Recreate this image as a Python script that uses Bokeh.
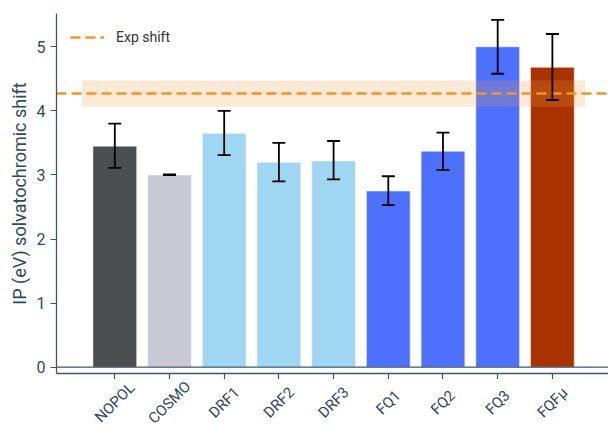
import math
from bokeh.plotting import figure
from bokeh.layouts import column
from bokeh.models import (Range1d, FixedTicker, Span, ColumnDataSource, Whisker, Legend,
                          LegendItem, TeeHead)
from bokeh.core.properties import value
from bokeh.embed import file_html
from bokeh.resources import INLINE

methods = ["NOPOL", "COSMO", "DRF1", "DRF2", "DRF3", "FQ1", "FQ2", "FQ3", "FQFμ"]
shift = [3.45, 3.00, 3.65, 3.20, 3.22, 2.75, 3.37, 5.00, 4.68]
err_low = [3.11, 3.00, 3.31, 2.90, 2.93, 2.53, 3.08, 4.58, 4.17]
err_high = [3.80, 3.01, 4.00, 3.50, 3.53, 2.98, 3.66, 5.42, 5.20]
colors = ["#4d4e50", "#c8c9d2", "#9fd6f2", "#9fd6f2", "#9fd6f2",
          "#4d70ff", "#4d70ff", "#4d70ff", "#a83300"]
exp_shift = 4.27
exp_err = 0.205
y_ticks = [0, 1, 2, 3, 4, 5]

axis_color = "#3b566e"
label_color = "#2e4a62"
FONT = "Roboto"

x = list(range(len(methods)))
src = ColumnDataSource(dict(x=x, top=shift, lo=err_low, hi=err_high, color=colors))

x0, x1 = -1.066, 9.026
xr = Range1d(x0, x1)
p = figure(frame_width=552, frame_height=360, output_backend="svg", toolbar_location=None,
           x_range=xr, y_range=Range1d(-0.098, 5.52),
           min_border_left=56, min_border_right=0, min_border_top=13, min_border_bottom=6)
p.outline_line_color = None
p.xgrid.visible = False
p.ygrid.visible = False

p.vbar(x="x", top="top", bottom=0, width=0.8, fill_color="color",
       line_color="white", line_alpha=0.5, line_width=1, source=src)

# experimental band
p.quad(left=[-0.6], right=[8.6], bottom=[exp_shift - exp_err], top=[exp_shift + exp_err],
       fill_color="#f0a04a", fill_alpha=0.22, line_color=None)

w = Whisker(base="x", lower="lo", upper="hi", source=src, line_color="black",
            line_width=1.8, level="overlay")
w.upper_head = TeeHead(size=13, line_color="black", line_width=1.8)
w.lower_head = TeeHead(size=13, line_color="black", line_width=1.8)
p.add_layout(w)

exp_line = p.line(x=[x0, x1], y=[exp_shift, exp_shift], line_color="#ef9628",
                  line_width=2.5, line_dash="10 5")

p.add_layout(Span(location=0, dimension="width", line_color=axis_color, line_width=1.2))

legend = Legend(items=[LegendItem(label="Exp shift", renderers=[exp_line])],
                location="top_left", border_line_alpha=0, background_fill_alpha=0,
                label_text_font=FONT, label_text_font_size="14px", label_text_color="#333333",
                glyph_width=34, label_standoff=12, margin=8, padding=6)
p.add_layout(legend)

p.xaxis.ticker = FixedTicker(ticks=x)
p.yaxis.ticker = FixedTicker(ticks=y_ticks)
p.yaxis.axis_label = "IP (eV) solvatochromic shift"

for ax in (p.xaxis, p.yaxis):
    ax.axis_line_color = axis_color
    ax.axis_line_width = 1.3
    ax.major_tick_line_color = axis_color
    ax.major_tick_line_width = 1.2
    ax.major_tick_out = 6
    ax.major_tick_in = 0
    ax.minor_tick_line_color = None
    ax.major_label_text_color = label_color
    ax.major_label_text_font = FONT

# x tick labels are drawn centred in the strip below instead
p.xaxis.major_label_text_font_size = "0px"
p.xaxis.major_label_text_color = None
p.xaxis.major_label_standoff = 0

p.yaxis.major_label_text_font_size = "16px"
p.yaxis.major_label_standoff = 5
p.yaxis.axis_label_text_font = FONT
p.yaxis.axis_label_text_font_style = "normal"
p.yaxis.axis_label_text_font_size = "18px"
p.yaxis.axis_label_text_color = label_color
p.yaxis.axis_label_standoff = 4

# strip below the chart holding the rotated category labels, centred under each tick
lab_h = 49
q = figure(frame_width=552, frame_height=lab_h, output_backend="svg", toolbar_location=None,
           x_range=xr, y_range=Range1d(0, lab_h),
           min_border_left=56, min_border_right=0, min_border_top=0, min_border_bottom=0)
q.axis.visible = False
q.grid.visible = False
q.outline_line_color = None
lab_src = ColumnDataSource(dict(x=x, y=[lab_h - 23] * len(methods), name=methods))
q.text(x="x", y="y", text="name", source=lab_src, angle=math.pi / 4,
       text_align="center", text_baseline="middle", text_font=value(FONT),
       text_font_size="15px", text_color=label_color)

layout = column(p, q, spacing=0)
open("out.html", "w").write(file_html(layout, INLINE))
